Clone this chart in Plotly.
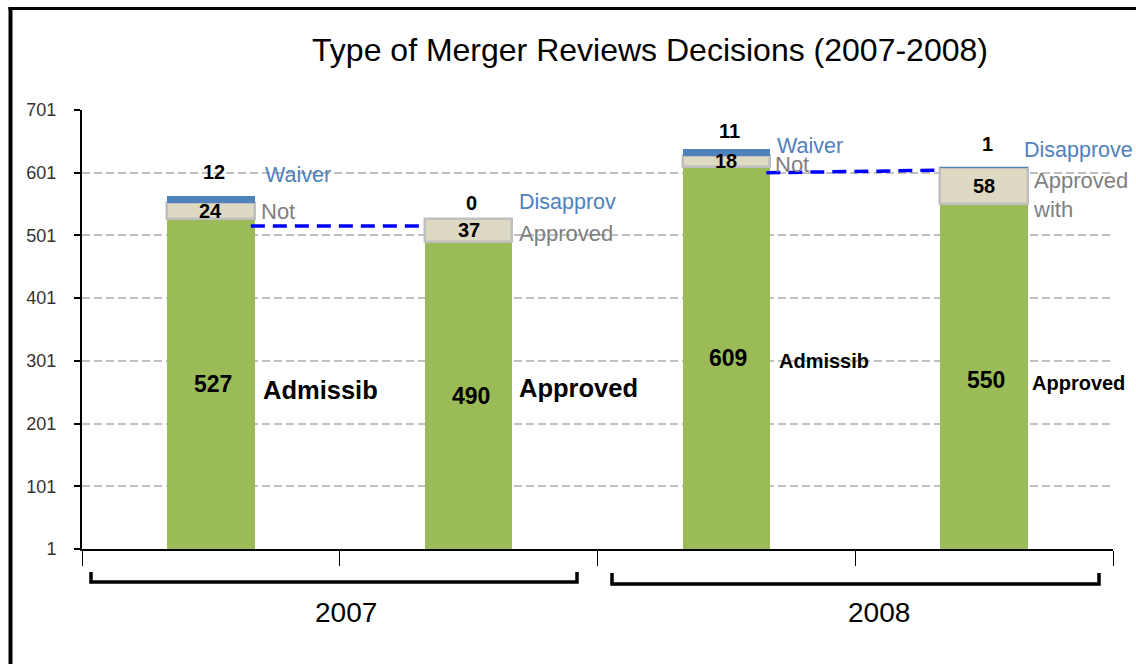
import plotly.graph_objects as go

# ---------------- data ----------------
years = ["2007", "2008"]
bar_groups = ["2007", "2007", "2008", "2008"]
main_values = [527, 490, 609, 550]
middle_values = [24, 37, 18, 58]
top_values = [12, 0, 11, 1]
main_names = ["Admissib", "Approved", "Admissib", "Approved"]
middle_names = ["Not", "Approved", "Not", "Approved<br>with"]
top_names = ["Waiver", "Disapprov", "Waiver", "Disapprove"]
y_tick_values = [1, 101, 201, 301, 401, 501, 601, 701]
y_tick_labels = ["1", "101", "201", "301", "401", "501", "601", "701"]
connector_levels = [[516, 516], [601, 605]]
axis_base = 1

# ---------------- styles ----------------
GREEN = "#9bbb59"
BEIGE = "#ddd9c3"
BLUE = "#4f81bd"
GREY_TXT = "#7f7f7f"
FONT = "Liberation Sans, Arial, sans-serif"
BAR_W = 0.34

n = len(main_values)
xs = [i + 0.5 for i in range(n)]
main_base = [axis_base] * n
mid_base = [axis_base + m for m in main_values]
top_base = [axis_base + m + d for m, d in zip(main_values, middle_values)]
tops = [b + t for b, t in zip(top_base, top_values)]

fig = go.Figure()
fig.add_trace(go.Bar(x=xs, y=main_values, base=main_base, width=BAR_W,
                     marker=dict(color=GREEN, line=dict(width=0)), showlegend=False))
fig.add_trace(go.Bar(x=xs, y=middle_values, base=mid_base, width=BAR_W,
                     marker=dict(color=BEIGE, line=dict(color="#bfbfbf", width=2.5)),
                     showlegend=False))
fig.add_trace(go.Bar(x=xs, y=top_values, base=top_base, width=BAR_W,
                     marker=dict(color=BLUE, line=dict(width=0)), showlegend=False))

# connectors between paired bars
for k, lv in enumerate(connector_levels):
    i = 2 * k
    fig.add_trace(go.Scatter(x=[xs[i] + BAR_W / 2 - 0.015, xs[i + 1] - BAR_W / 2],
                             y=lv, mode="lines",
                             line=dict(color="#0000ff", width=3.5, dash="14px,8px"),
                             showlegend=False, hoverinfo="skip"))

ann = []
# value labels in main segment
main_val_shift = [0, -1, 0, -3]
for i in range(n):
    ann.append(dict(x=xs[i], y=main_base[i] + main_values[i] / 2, xref="x", yref="y",
                    text=f"<b>{main_values[i]}</b>", showarrow=False,
                    yshift=main_val_shift[i], xshift=2,
                    font=dict(family=FONT, size=23, color="black")))
# main names (dy: pixels downward from segment middle)
main_name_dx = [6, 5, 7, 2]
main_name_dy = [6, -7.5, 3, 6.5]
main_name_size = [25.5, 25.5, 20, 20]
for i in range(n):
    ann.append(dict(x=xs[i] + BAR_W / 2, y=main_base[i] + main_values[i] / 2, xref="x", yref="y",
                    text=f"<b>{main_names[i]}</b>", showarrow=False, xanchor="left",
                    xshift=main_name_dx[i], yshift=-main_name_dy[i],
                    font=dict(family=FONT, size=main_name_size[i], color="black")))
# middle values
for i in range(n):
    ann.append(dict(x=xs[i], y=mid_base[i] + middle_values[i] / 2, xref="x", yref="y",
                    text=f"<b>{middle_values[i]}</b>", showarrow=False,
                    font=dict(family=FONT, size=20, color="black")))
# middle names
mid_name_dx = [4, 5, 3, 3]
mid_name_dy = [1, 3, 3.5, 9]
for i in range(n):
    ann.append(dict(x=xs[i] + BAR_W / 2, y=mid_base[i] + middle_values[i] / 2, xref="x", yref="y",
                    text=middle_names[i], showarrow=False, xanchor="left", align="left",
                    xshift=mid_name_dx[i], yshift=-mid_name_dy[i],
                    font=dict(family=FONT, size=22, color=GREY_TXT)))
# top values
top_val_dy = [24, 16, 18, 23]
for i in range(n):
    ann.append(dict(x=xs[i], y=tops[i], xref="x", yref="y",
                    text=f"<b>{top_values[i]}</b>", showarrow=False, yanchor="middle",
                    xshift=3, yshift=top_val_dy[i],
                    font=dict(family=FONT, size=20, color="black")))
# top names
top_name_dx = [8, 5, 5, -6]
top_name_dy = [21, 17, 3, 17]
for i in range(n):
    ann.append(dict(x=xs[i] + BAR_W / 2, y=tops[i], xref="x", yref="y",
                    text=top_names[i], showarrow=False, xanchor="left", yanchor="middle",
                    xshift=top_name_dx[i], yshift=top_name_dy[i],
                    font=dict(family=FONT, size=21.5, color=BLUE)))

# pixel -> paper helpers for decoration
PL, PR, PT, PB = 82, 1113, 110, 549
def px(x):
    return (x - PL) / (PR - PL)
def py(y):
    return (PB - y) / (PB - PT)

# year labels
year_pos = [(346, 612), (879, 612)]
for yr, (cx, cy) in zip(years, year_pos):
    ann.append(dict(x=px(cx), y=py(cy), xref="paper", yref="paper", text=yr,
                    showarrow=False, xanchor="center", yanchor="middle",
                    font=dict(family=FONT, size=28, color="black")))

shapes = []
brackets = [(91, 577, 572, 582), (612, 1099, 573, 584)]
for x1, x2, yt, yb in brackets:
    shapes.append(dict(type="path", xref="paper", yref="paper",
                       path=f"M {px(x1)},{py(yt)} L {px(x1)},{py(yb)} L {px(x2)},{py(yb)} L {px(x2)},{py(yt)}",
                       line=dict(color="black", width=3.5)))
# outer frame (left and top)
shapes.append(dict(type="line", xref="paper", yref="paper", x0=px(10.5), x1=px(10.5),
                   y0=py(7), y1=py(680), line=dict(color="black", width=4)))
shapes.append(dict(type="line", xref="paper", yref="paper", x0=px(8.5), x1=px(1150),
                   y0=py(8.5), y1=py(8.5), line=dict(color="black", width=3)))

fig.update_layout(
    width=1136, height=664,
    margin=dict(l=PL, r=1136 - PR, t=PT, b=664 - PB, autoexpand=False),
    paper_bgcolor="white", plot_bgcolor="white",
    barmode="overlay", bargap=0,
    title=dict(text="Type of Merger Reviews Decisions (2007-2008)",
               x=650 / 1136, xanchor="center", xref="container",
               y=1 - 50 / 664, yanchor="middle", yref="container",
               font=dict(family=FONT, size=32, color="black")),
    annotations=ann, shapes=shapes,
    xaxis=dict(range=[0, n], tickvals=list(range(n + 1)), showticklabels=False,
               ticks="outside", ticklen=15, tickwidth=1.3, tickcolor="black",
               showline=True, linecolor="black", linewidth=2, showgrid=False,
               zeroline=False, automargin=False, fixedrange=True),
    yaxis=dict(range=[axis_base, 701], tickvals=y_tick_values, ticktext=y_tick_labels,
               ticks="outside", ticklen=6, tickwidth=1.5, tickcolor="black",
               ticklabelstandoff=14,
               tickfont=dict(family=FONT, size=18, color="#333333"),
               showline=True, linecolor="black", linewidth=2,
               showgrid=True, gridcolor="#c0c0c0", gridwidth=2, griddash="8px,4px",
               zeroline=False, automargin=False, fixedrange=True),
    font=dict(family=FONT),
)

fig.write_html("out.html", config={"displayModeBar": False},
               post_script="document.body.style.margin='0';document.body.style.overflow='hidden';")
